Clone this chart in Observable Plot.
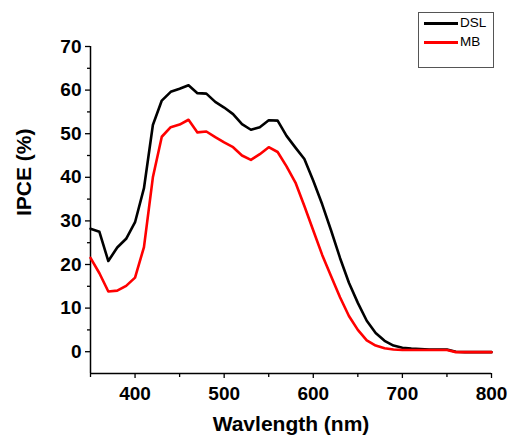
<!DOCTYPE html>
<html>
<head>
<meta charset="utf-8">
<script src="https://cdn.jsdelivr.net/npm/d3@7"></script>
<script src="https://cdn.jsdelivr.net/npm/@observablehq/plot@0.6"></script>
<style>
  html, body { margin: 0; padding: 0; background: #fff; }
  #wrap { position: relative; width: 508px; height: 442px; font-family: "Liberation Sans", Arial, sans-serif; }
  #legend { position: absolute; left: 418px; top: 12px; width: 76px; height: 56px; border: 1px solid #555; background: #fff; box-sizing: border-box; }
  .lg { position: absolute; left: 5px; height: 14px; font-size: 13.5px; line-height: 14px; color: #000; display: flex; align-items: center; }
  .lg span.sw { display: inline-block; width: 34px; height: 3px; margin-right: 2px; }
</style>
</head>
<body>
<div id="wrap">
  <div id="chart"></div>
  <div id="legend"></div>
</div>
<script>
const wavelength = [350,360,370,380,390,400,410,420,430,440,450,460,470,480,490,500,510,520,530,540,550,560,570,580,590,600,610,620,630,640,650,660,670,680,690,700,710,720,730,740,750,760,770,780,790,800];
const dsl = [28.2,27.5,20.8,23.9,25.9,29.7,37.5,52.0,57.6,59.6,60.3,61.1,59.3,59.2,57.3,56.0,54.5,52.2,50.9,51.5,53.1,53.0,49.5,46.8,44.2,39.2,33.8,27.8,21.5,15.8,11.2,7.1,4.3,2.5,1.4,0.9,0.7,0.6,0.5,0.5,0.5,0.0,-0.1,-0.1,-0.1,-0.1];
const mb = [21.5,18.0,13.8,14.0,15.1,17.0,24.0,40.0,49.3,51.5,52.1,53.2,50.3,50.5,49.2,48.0,46.9,45.0,44.0,45.3,46.9,45.8,42.5,38.8,33.4,27.8,22.2,17.3,12.5,8.2,5.0,2.6,1.4,0.8,0.5,0.4,0.4,0.4,0.4,0.4,0.4,-0.1,-0.1,-0.1,-0.1,-0.1];
const seriesNames = ["DSL", "MB"];
const seriesColors = ["#000000", "#ff0000"];
const xMajor = [400,500,600,700,800];
const xMinor = [350,450,550,650,750];
const yMajor = [0,10,20,30,40,50,60,70];
const yMinor = [5,15,25,35,45,55,65];
const xDomain = [350, 800];
const yDomain = [-5, 70];

const rows = [];
[dsl, mb].forEach((vals, k) => {
  vals.forEach((v, i) => rows.push({w: wavelength[i], v, s: seriesNames[k]}));
});

const font = '"Liberation Sans", Arial, sans-serif';
const chart = Plot.plot({
  width: 508,
  height: 442,
  marginLeft: 90,
  marginRight: 17,
  marginTop: 46,
  marginBottom: 69,
  style: {fontFamily: font, background: "#fff"},
  x: {domain: xDomain, label: null},
  y: {domain: yDomain, label: null},
  color: {domain: seriesNames, range: seriesColors},
  marks: [
    Plot.ruleX([xDomain[0]], {stroke: "#000", strokeWidth: 1.5}),
    Plot.ruleY([yDomain[0]], {stroke: "#000", strokeWidth: 1.5}),
    Plot.axisX({ticks: xMajor, tickSize: 5, tickPadding: 8, tickFormat: d => String(d), fontSize: 19, fontWeight: "bold", stroke: "#000", strokeWidth: 1.3, label: null}),
    Plot.axisX({ticks: xMinor, tickSize: 4, tickFormat: () => "", stroke: "#000", strokeWidth: 1.3, label: null}),
    Plot.axisY({ticks: yMajor, tickSize: 5, tickPadding: 4, tickFormat: d => String(d), fontSize: 19, fontWeight: "bold", stroke: "#000", strokeWidth: 1.3, label: null}),
    Plot.axisY({ticks: yMinor, tickSize: 3, tickFormat: () => "", stroke: "#000", strokeWidth: 1.3, label: null}),
    Plot.line(rows, {x: "w", y: "v", z: "s", stroke: "s", strokeWidth: 2.6, curve: "linear"}),
    Plot.text(["IPCE (%)"], {frameAnchor: "left", rotate: -90, dx: -66, dy: 6, fontSize: 21, fontWeight: "bold", fill: "#000"}),
    Plot.text(["Wavlength (nm)"], {frameAnchor: "bottom", dy: 57, fontSize: 21, fontWeight: "bold", fill: "#000"})
  ]
});
document.getElementById("chart").appendChild(chart);

const lg = document.getElementById("legend");
seriesNames.forEach((n, i) => {
  const d = document.createElement("div");
  d.className = "lg";
  d.style.top = (3 + i * 19) + "px";
  d.innerHTML = `<span class="sw" style="background:${seriesColors[i]}"></span>${n}`;
  lg.appendChild(d);
});
</script>
</body>
</html>
